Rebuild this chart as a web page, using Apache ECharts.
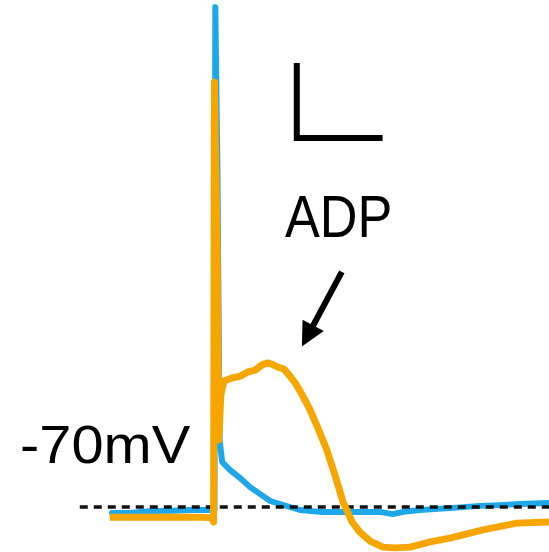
<!DOCTYPE html>
<html>
<head>
<meta charset="utf-8">
<script src="https://cdn.jsdelivr.net/npm/echarts@6/dist/echarts.min.js"></script>
<style>
  html, body { margin: 0; padding: 0; background: #fff; }
  #chart { width: 549px; height: 552px; }
</style>
</head>
<body>
<div id="chart"></div>
<script>
// Membrane potential traces: [time (ms), voltage (mV)]
const controlTrace = [
  [26.1, -71.6], [30.3, -71.6], [35.0, -71.1], [40.0, -71.0], [44.3, -70.8],
  [49.4, -70.8], [50.0, -70.8], [50.2, 63.3], [50.5, 63.0], [50.7, 20.0],
  [51.2, -52.1], [51.8, -58.0], [53.6, -60.1], [56.0, -62.3], [58.3, -64.7],
  [60.6, -66.5], [63.0, -68.4], [65.3, -69.2], [69.9, -70.8], [74.6, -71.3],
  [81.6, -71.3], [88.6, -71.3], [91.6, -71.9], [94.0, -71.3], [97.9, -70.8],
  [104.9, -70.3], [111.9, -69.7], [116.6, -69.5], [121.2, -69.2], [128.0, -68.9]
];

const adpTrace = [
  [25.6, -72.7], [35.0, -72.7], [46.6, -72.7], [49.4, -72.9], [49.8, -74.0],
  [50.0, 43.3], [50.4, 43.0], [50.6, 0.0], [51.0, -52.1], [51.5, -40.1],
  [52.2, -36.4], [54.1, -35.6], [56.0, -35.1], [57.8, -34.0], [59.5, -33.5],
  [61.1, -32.1], [62.3, -31.6], [63.4, -31.9], [64.8, -32.7], [66.2, -33.2],
  [67.6, -35.1], [69.0, -37.2], [70.6, -40.4], [72.3, -44.1], [74.1, -48.9],
  [76.2, -54.8], [78.1, -61.5], [80.0, -68.7], [82.1, -74.0], [83.9, -76.7],
  [86.3, -79.1], [89.3, -80.7], [92.1, -80.9], [95.6, -80.7], [100.3, -79.3],
  [104.9, -78.3], [112.6, -76.1], [120.5, -74.3], [128.0, -74.0]
];

// Resting potential reference line
const restingLevel = -70;
const restingSpan = [18.6, 128.0];

// Scale bar: 20 ms x 20 mV
const scaleBarOrigin = [69.2, 28.4];
const scaleBarTime = 20;
const scaleBarVolt = 20;

// Arrow pointing at the afterdepolarization (end = centre of the arrowhead)
const arrowFrom = [79.7, -7.3];
const arrowTo = [71.7, -24.4];

const labels = { adp: 'ADP', rest: '-70mV' };

const chart = echarts.init(document.getElementById('chart'), null, { renderer: 'canvas' });

const blue = '#1EA8EA';
const orange = '#F7A600';

chart.setOption({
  animation: false,
  backgroundColor: '#ffffff',
  grid: { left: 0, right: 0, top: 0, bottom: 0 },
  xAxis: { type: 'value', min: 0, max: 128, show: false },
  yAxis: { type: 'value', min: -82, max: 65.2, show: false },
  series: [
    {
      type: 'line', data: controlTrace, symbol: 'none',
      lineStyle: { color: blue, width: 6, join: 'round', cap: 'round' }, z: 2
    },
    {
      type: 'line',
      data: restingSpan.map(t => [t, restingLevel]),
      symbol: 'none',
      lineStyle: { color: '#111', width: 3.5, type: [8, 6] }, z: 3
    },
    {
      type: 'line', data: adpTrace, symbol: 'none',
      lineStyle: { color: orange, width: 7, join: 'round', cap: 'butt' }, z: 4
    },
    {
      type: 'line', symbol: 'none',
      data: [
        [scaleBarOrigin[0], scaleBarOrigin[1] + scaleBarVolt],
        scaleBarOrigin,
        [scaleBarOrigin[0] + scaleBarTime, scaleBarOrigin[1]]
      ],
      lineStyle: { color: '#000', width: 6, join: 'miter', cap: 'butt' }, z: 5
    },
    {
      type: 'line', data: [], z: 5,
      markLine: {
        silent: true,
        symbol: ['none', 'triangle'],
        symbolSize: 24,
        label: { show: false },
        emphasis: { disabled: true },
        lineStyle: { color: '#000', width: 6, type: 'solid' },
        itemStyle: { color: '#000' },
        data: [[{ coord: arrowFrom }, { coord: arrowTo }]]
      }
    }
  ],
  graphic: [
    {
      type: 'text', x: 285, y: 220, scaleX: 0.87,
      style: { text: labels.adp, font: '60px "Liberation Sans"', fill: '#000',
               textAlign: 'left', textVerticalAlign: 'middle' }
    },
    {
      type: 'text', x: 20, y: 448, scaleX: 1.07,
      style: { text: labels.rest, font: '54px "Liberation Sans"', fill: '#000',
               textAlign: 'left', textVerticalAlign: 'middle' }
    }
  ]
});
</script>
</body>
</html>
